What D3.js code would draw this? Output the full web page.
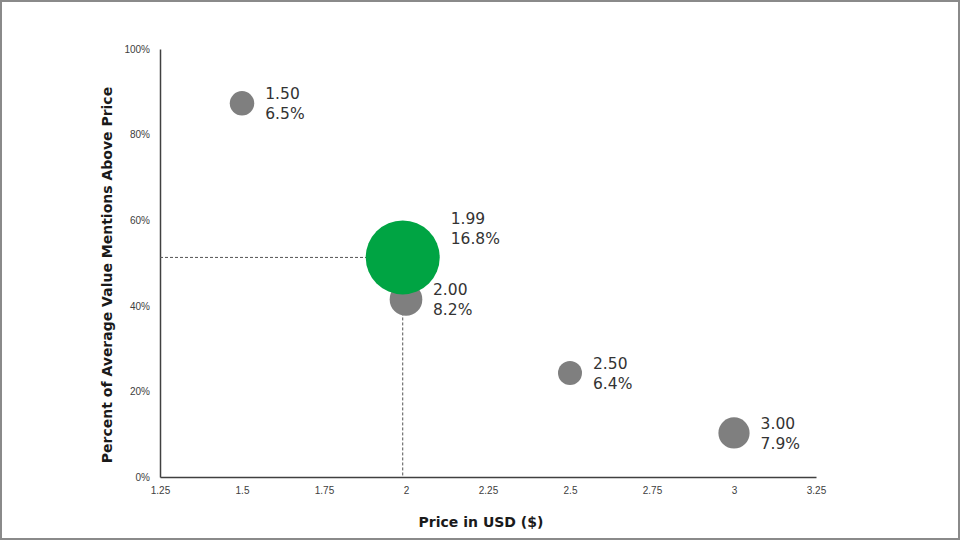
<!DOCTYPE html>
<html>
<head>
<meta charset="utf-8">
<script src="https://cdn.jsdelivr.net/npm/d3@7"></script>
<style>
  body { margin: 0; background: #fff; }
  svg { display: block; font-family: 'DejaVu Sans', sans-serif; }
</style>
</head>
<body>
<div id="chart"></div>
<script>
'use strict';

// price points tested, share of mentions above price, and bubble size (% of respondents)
const prices = [1.50, 1.99, 2.00, 2.50, 3.00];
const aboveShare = [0.873, 0.513, 0.415, 0.243, 0.103];
const bubbleShare = [6.5, 16.8, 8.2, 6.4, 7.9];
const priceLabels = ['1.50', '1.99', '2.00', '2.50', '3.00'];
const highlight = '1.99';
const xTicks = [1.25, 1.5, 1.75, 2, 2.25, 2.5, 2.75, 3, 3.25];
const yTicks = [0, 0.2, 0.4, 0.6, 0.8, 1];

const width = 960, height = 540;
const margin = { top: 49, right: 144, bottom: 63, left: 160 };

const svg = d3.select('#chart').append('svg')
  .attr('width', width).attr('height', height);

// grey frame
svg.append('rect')
  .attr('x', 1).attr('y', 1).attr('width', width - 2).attr('height', height - 2)
  .attr('fill', 'none').attr('stroke', '#8a8a8a').attr('stroke-width', 2);

const x = d3.scaleLinear().domain([1.25, 3.25]).range([margin.left, width - margin.right]);
const y = d3.scaleLinear().domain([0, 1]).range([height - margin.bottom, margin.top]);
const r = d3.scaleLinear().domain([6.4, 16.8]).range([12, 37]);

const points = prices.map((p, i) => ({
  price: p, share: aboveShare[i], size: bubbleShare[i], label: priceLabels[i]
}));

// axes
const xAxis = svg.append('g')
  .attr('transform', `translate(0,${y(0)})`)
  .call(d3.axisBottom(x).tickValues(xTicks).tickSize(0).tickPadding(10)
    .tickFormat(d => String(d)));
const yAxis = svg.append('g')
  .attr('transform', `translate(${x(1.25)},0)`)
  .call(d3.axisLeft(y).tickValues(yTicks).tickSize(0).tickPadding(10)
    .tickFormat(d3.format('.0%')));

[xAxis, yAxis].forEach(ax => {
  ax.select('.domain').attr('stroke', '#404040').attr('stroke-width', 1.5);
  ax.selectAll('text').attr('fill', '#404040').style('font-size', '10px');
});

// dashed guides to the highlighted price
const hl = points.find(d => d.label === highlight);
svg.append('line')
  .attr('x1', x(1.25)).attr('x2', x(hl.price))
  .attr('y1', y(hl.share)).attr('y2', y(hl.share))
  .attr('stroke', '#555').attr('stroke-dasharray', '3,2').attr('stroke-width', 1);
svg.append('line')
  .attr('x1', x(hl.price)).attr('x2', x(hl.price))
  .attr('y1', y(hl.share)).attr('y2', y(0))
  .attr('stroke', '#555').attr('stroke-dasharray', '3,2').attr('stroke-width', 1);

// bubbles, highlighted one drawn last
const order = points.slice().sort((a, b) => (a.label === highlight) - (b.label === highlight));
svg.append('g').selectAll('circle')
  .data(order)
  .join('circle')
  .attr('cx', d => x(d.price))
  .attr('cy', d => y(d.share))
  .attr('r', d => r(d.size))
  .attr('fill', d => d.label === highlight ? '#00a443' : '#7f7f7f');

// labels next to each bubble
const labelX = d => x(d.price) + Math.min(r(d.size), 16) + (d.label === highlight ? 32 : 11);
const labels = svg.append('g').selectAll('text')
  .data(points)
  .join('text')
  .attr('x', labelX)
  .attr('y', d => y(d.share) - (d.label === highlight ? 33 : 4))
  .attr('fill', '#333')
  .style('font-size', '15.5px');
labels.append('tspan').text(d => d.label);
labels.append('tspan')
  .attr('x', labelX)
  .attr('dy', 20)
  .text(d => d.size.toFixed(1) + '%');

// axis titles
svg.append('text')
  .attr('x', 481).attr('y', 527)
  .attr('text-anchor', 'middle')
  .attr('fill', '#1a1a1a')
  .style('font-size', '14px').style('font-weight', 'bold')
  .text('Price in USD ($)');
svg.append('text')
  .attr('transform', `translate(112,${(y(0) + y(1)) / 2 + 12}) rotate(-90)`)
  .attr('text-anchor', 'middle')
  .attr('fill', '#1a1a1a')
  .style('font-size', '14px').style('font-weight', 'bold')
  .text('Percent of Average Value Mentions Above Price');
</script>
</body>
</html>
